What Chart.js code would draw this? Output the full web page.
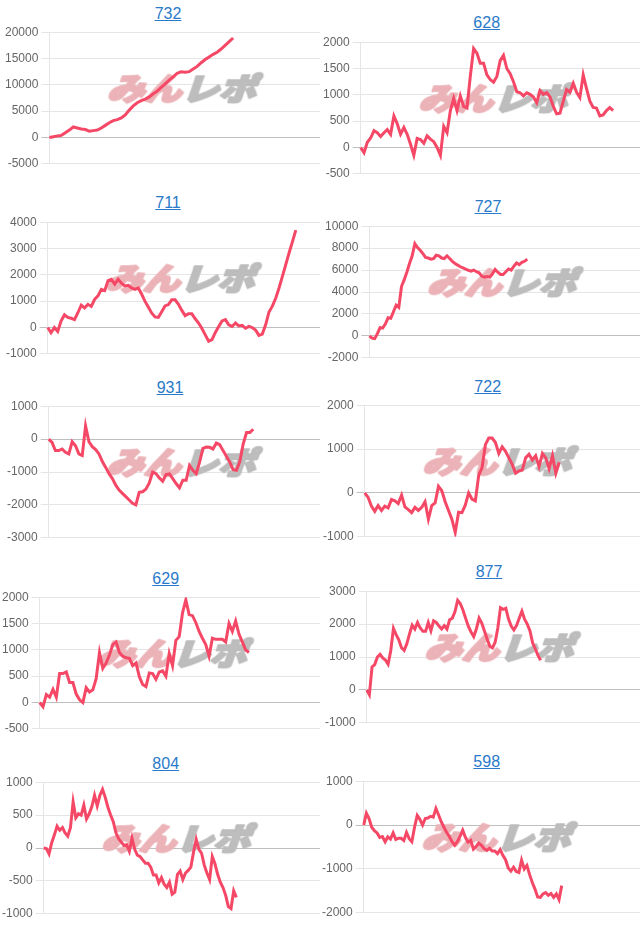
<!DOCTYPE html>
<html>
<head>
<meta charset="utf-8">
<script src="https://cdn.jsdelivr.net/npm/chart.js@4.4.1/dist/chart.umd.min.js"></script>
<style>
body{margin:0;background:#fff;overflow:hidden;width:640px;height:931px;font-family:Arial,"Liberation Sans",sans-serif}
.col{position:absolute;top:0;width:320px;height:931px;overflow:hidden}
.ttl{position:absolute;width:200px;text-align:center;font-size:16px;line-height:20px}
.ttl a{color:#2a7ac9;text-decoration:underline}
canvas{position:absolute}
</style>
</head>
<body>
<div class="col" id="col0" style="left:0"></div>
<div class="col" id="col1" style="left:320px"></div>
<script>
// machine numbers (titles)
const titles = ['732', '628', '711', '727', '931', '722', '629', '877', '804', '598'];

// running totals
const s732 = [0,150,300,400,900,1400,2000,1800,1600,1500,1200,1300,1400,1800,2300,2800,3200,3400,3700,4300,5200,6000,6600,7000,7300,7700,8300,8800,9500,10200,10900,11500,12200,12500,12400,12500,13000,13500,14200,14800,15300,15800,16200,16800,17500,18200,18900];
const s628 = [0,-100,100,180,320,280,210,280,340,250,600,450,250,380,250,60,-150,170,150,80,220,160,110,0,-150,400,280,700,930,700,980,780,750,1350,1880,1790,1600,1600,1380,1290,1240,1350,1650,1750,1500,1400,1250,1060,1040,980,1040,1010,960,850,1080,1010,1040,960,780,640,650,880,1100,1050,1220,1050,950,1380,1120,880,760,750,600,620,700,760,700];
const s711 = [0,-200,0,-150,250,480,380,350,300,560,850,740,880,800,1070,1200,1450,1400,1780,1830,1650,1830,1680,1580,1600,1500,1450,1500,1270,1000,780,550,400,380,600,820,870,1050,1050,880,650,450,520,520,330,170,-40,-280,-520,-460,-190,40,250,300,100,40,170,60,80,-30,40,0,-100,-300,-250,100,590,810,1110,1500,1940,2390,2840,3260,3700];
const s727 = [0,-200,-250,200,750,720,1100,1650,1600,2200,2800,2600,4500,5100,5800,6600,7300,8400,8050,7800,7500,7150,7100,7000,7050,7350,7300,7100,7050,7300,7050,6800,6600,6450,6300,6200,6080,5980,5900,6000,5850,5750,5450,5350,5400,5350,5650,6050,5800,5600,5600,5850,6100,6000,6350,6650,6500,6700,6800,7000];
const s931 = [0,-100,-350,-350,-300,-400,-450,-80,-200,-450,-500,400,-80,-230,-320,-450,-680,-860,-1050,-1200,-1400,-1550,-1650,-1750,-1850,-1950,-2000,-1620,-1600,-1520,-1330,-1000,-1050,-1180,-1280,-1080,-1060,-1200,-1350,-1480,-1250,-1250,-800,-950,-1050,-700,-280,-240,-250,-300,-120,-170,-350,-520,-700,-930,-950,-680,-150,200,200,300];
const s722 = [0,-100,-300,-420,-290,-400,-300,-340,-150,-180,-240,-50,-320,-380,-450,-330,-400,-330,-200,-600,-290,-230,150,50,-200,-400,-600,-900,-440,-450,-280,0,-140,-180,400,580,1100,1250,1250,1150,900,1050,950,800,650,450,500,520,800,880,750,850,600,900,800,550,850,450,700];
const s629 = [0,-80,150,100,250,100,550,550,580,380,380,160,50,0,280,200,240,450,950,650,750,900,1100,1150,950,880,850,840,700,750,490,340,300,560,550,440,580,600,500,930,700,1180,1250,1700,1950,1670,1650,1520,1350,1220,1100,880,1220,1200,1200,1200,1150,1500,1350,1550,1300,1150,1000,950];
const s877 = [0,-150,700,770,1000,1080,970,910,780,1200,1870,1680,1520,1280,1200,1400,1700,1970,1850,2050,1880,1780,1780,2050,1800,2100,2050,1940,1850,1950,1850,2130,2180,2380,2720,2620,2420,2170,1930,1760,1620,1860,2180,2030,1790,1550,1330,1280,1450,1880,2500,2450,2480,2150,1940,1820,1960,2180,2390,2150,2000,1800,1430,1250,1050,900];
const s804 = [0,-10,-90,80,200,330,270,310,230,180,310,700,460,520,500,650,440,520,630,800,640,800,890,770,620,500,400,230,140,90,40,50,-50,150,-20,-110,-130,-180,-230,-230,-290,-410,-410,-530,-450,-550,-600,-520,-700,-670,-400,-350,-480,-380,-340,-290,-60,130,-20,-80,-260,-380,-480,-130,-240,-400,-520,-600,-720,-890,-920,-650,-750];
const s598 = [0,270,150,-50,-130,-180,-280,-260,-380,-270,-320,-180,-330,-300,-300,-350,-170,-310,-380,-50,220,130,0,150,160,200,180,380,230,70,-50,-170,-260,-380,-460,-380,-260,-120,-280,-390,-350,-550,-490,-410,-460,-540,-580,-530,-590,-590,-650,-560,-690,-790,-980,-1050,-960,-1060,-1080,-800,-1000,-920,-1130,-1310,-1460,-1640,-1650,-1570,-1540,-1600,-1560,-1650,-1570,-1700,-1380];

const series = [s732, s628, s711, s727, s931, s722, s629, s877, s804, s598];

// x slots on each chart (the line stops where the data stops)
const slots = [70, 86, 84, 104, 84, 84, 86, 105, 105, 105];

// y axis ranges
const yMin  = [-5000, -500, -1000, -2000, -3000, -1000, -500, -1000, -1000, -2000];
const yMax  = [20000, 2000, 4000, 10000, 1000, 2000, 2000, 3000, 1000, 1000];
const yStep = [5000, 500, 1000, 2000, 1000, 1000, 500, 1000, 500, 1000];

// placement: column, y-axis x, top gridline y, title centre x (column relative)
const cells = [
  {col: 0, axis: 49,   top: 32.3,  tx: 168},
  {col: 1, axis: 40.7, top: 41.7,  tx: 166.7},
  {col: 0, axis: 47.3, top: 221.7, tx: 168},
  {col: 1, axis: 49.3, top: 225.7, tx: 168},
  {col: 0, axis: 48.3, top: 406,   tx: 170},
  {col: 1, axis: 45,   top: 405,   tx: 167.7},
  {col: 0, axis: 40,   top: 597.3, tx: 165.7},
  {col: 1, axis: 46.7, top: 590.7, tx: 169},
  {col: 0, axis: 43.3, top: 782.3, tx: 165.7},
  {col: 1, axis: 44,   top: 780.7, tx: 166.7}
];

const lineColor = 'rgb(245, 72, 102)';

// みんレポ logo, rendered once and stamped under each line
const logo = document.createElement('canvas');
logo.width = 200;
logo.height = 50;
(function () {
  const g = logo.getContext('2d');
  g.translate(100, 25);
  g.transform(1.2, 0, -0.35, 1, 0, 0);
  g.font = '900 31px "Noto Sans CJK JP"';
  g.textBaseline = 'middle';
  g.lineJoin = 'round';
  g.lineWidth = 2.4;
  const w1 = g.measureText('みん').width;
  const w2 = g.measureText('レポ').width;
  const x = -(w1 + w2) / 2;
  g.fillStyle = g.strokeStyle = '#ebb3b8';
  g.strokeText('みん', x, 0);
  g.fillText('みん', x, 0);
  g.fillStyle = g.strokeStyle = '#bdbdbd';
  g.strokeText('レポ', x + w1, 0);
  g.fillText('レポ', x + w1, 0);
})();

const watermark = {
  id: 'watermark',
  beforeDatasetsDraw(chart) {
    const a = chart.chartArea;
    chart.ctx.drawImage(logo, a.left + 136 - 100, a.top + 56 - 25);
  }
};

titles.forEach((t, i) => {
  const c = cells[i];
  const col = document.getElementById('col' + c.col);

  const ttl = document.createElement('div');
  ttl.className = 'ttl';
  ttl.style.left = (c.tx - 100) + 'px';
  ttl.style.top = Math.round(c.top - 28.3) + 'px';
  ttl.innerHTML = '<a href="#">' + t + '</a>';
  col.appendChild(ttl);

  const cv = document.createElement('canvas');
  cv.width = 323;
  cv.height = 152;
  col.appendChild(cv);

  const chart = new Chart(cv, {
    type: 'line',
    data: {
      labels: Array(slots[i]).fill(''),
      datasets: [{
        data: series[i],
        borderColor: lineColor,
        borderWidth: 3,
        pointRadius: 0,
        tension: 0,
        fill: false
      }]
    },
    options: {
      responsive: false,
      animation: false,
      plugins: {
        legend: {display: false},
        tooltip: {enabled: false}
      },
      scales: {
        x: {display: false},
        y: {
          min: yMin[i],
          max: yMax[i],
          ticks: {
            stepSize: yStep[i],
            color: '#666',
            font: {size: 12, family: 'Arial, "Liberation Sans", sans-serif'},
            callback: v => String(v)
          },
          grid: {
            color: ctx => ctx.tick && ctx.tick.value === 0 ? 'rgba(0,0,0,0.25)' : 'rgba(0,0,0,0.1)'
          },
          border: {color: 'rgba(0,0,0,0.1)'}
        }
      }
    },
    plugins: [watermark]
  });

  // line the plot area up with the picture
  cv.style.left = Math.round(c.axis - chart.chartArea.left) + 'px';
  cv.style.top = Math.round(c.top - chart.chartArea.top) + 'px';
});
</script>
</body>
</html>
